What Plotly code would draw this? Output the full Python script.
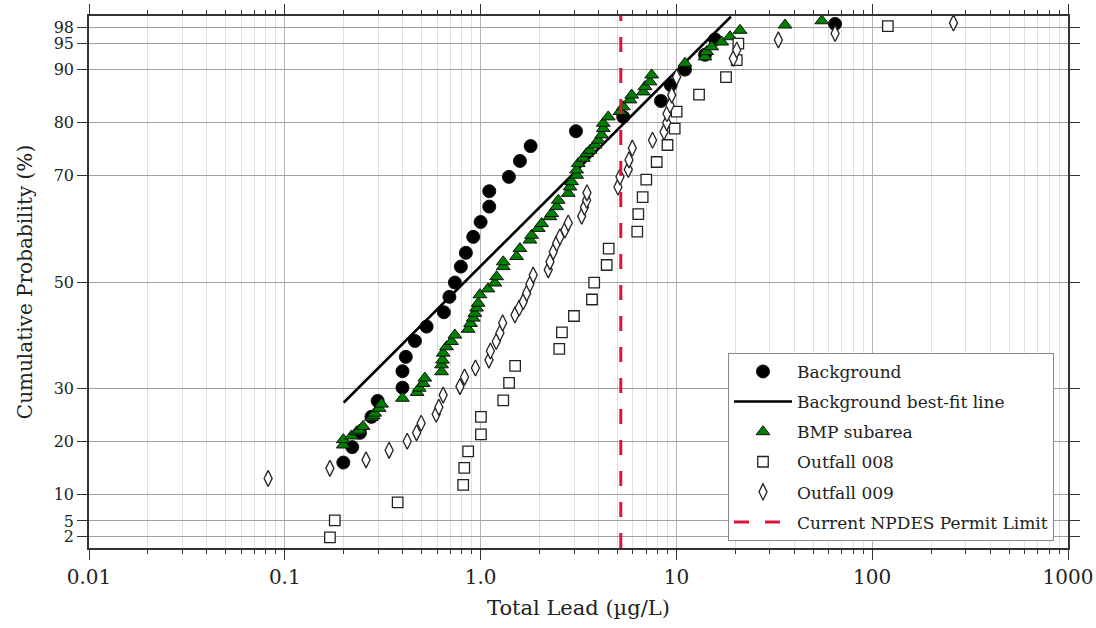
import plotly.graph_objects as go

# Background samples: total lead (ug/L) and cumulative probability (%)
background_lead = [0.199, 0.221, 0.242, 0.277, 0.298, 0.399, 0.399, 0.415, 0.462, 0.530,
                   0.649, 0.693, 0.739, 0.793, 0.841, 0.917, 1.00, 1.107, 1.107, 1.395,
                   1.588, 1.801, 3.07, 5.35, 8.34, 9.35, 11.06, 14.0, 15.75, 64.6]
background_prob = [16.0, 18.9, 21.6, 24.6, 27.6, 30.1, 33.2, 35.9, 38.9, 41.6,
                   44.3, 47.2, 49.9, 52.9, 55.5, 58.5, 61.3, 64.2, 67.1, 69.8,
                   72.8, 75.6, 78.4, 81.1, 84.1, 87.1, 90.0, 92.8, 95.7, 98.6]

# Background best-fit line end points
fit_lead = [0.2, 19.0]
fit_prob = [27.3, 100.0]

# BMP subarea samples
bmp_lead = [0.199, 0.199, 0.219, 0.233, 0.240, 0.251, 0.277, 0.283, 0.288, 0.303,
            0.312, 0.399, 0.474, 0.486, 0.509, 0.519, 0.632, 0.632, 0.639, 0.644,
            0.670, 0.711, 0.739, 0.864, 0.889, 0.917, 0.935, 0.954, 0.972, 0.992,
            1.090, 1.183, 1.207, 1.305, 1.305, 1.527, 1.588, 1.786, 1.822, 1.970,
            2.050, 2.261, 2.306, 2.445, 2.492, 2.803, 2.860, 2.917, 3.094, 3.094,
            3.152, 3.344, 3.480, 3.618, 3.837, 3.989, 4.152, 4.231, 4.231, 4.487,
            5.150, 5.354, 5.794, 5.911, 6.774, 6.912, 7.330, 7.479, 11.06, 14.00,
            14.28, 15.15, 17.04, 18.79, 21.13, 35.87, 55.27]
bmp_prob = [19.3, 20.3, 21.0, 21.8, 22.1, 22.8, 24.5, 24.8, 25.3, 26.2,
            27.0, 28.1, 29.2, 30.0, 30.9, 31.9, 33.1, 34.4, 35.3, 36.6,
            37.8, 38.8, 40.0, 41.1, 42.2, 43.2, 44.1, 45.1, 46.0, 47.6,
            48.7, 49.8, 51.0, 52.9, 53.8, 54.8, 56.3, 57.9, 58.8, 60.1,
            61.0, 62.3, 62.9, 64.2, 65.4, 66.7, 67.9, 68.9, 70.1, 71.1,
            72.3, 73.3, 74.2, 74.8, 75.8, 76.7, 77.7, 78.9, 79.9, 81.1,
            82.1, 83.0, 84.3, 85.2, 85.8, 86.8, 87.7, 89.0, 91.2, 92.4,
            93.4, 94.3, 95.2, 96.2, 97.4, 98.4, 99.2]

# Outfall 008 samples
outfall008_lead = [0.170, 0.180, 0.377, 0.815, 0.825, 0.864, 1.004, 1.004, 1.305, 1.398,
                   1.501, 2.522, 2.603, 2.998, 3.705, 3.802, 4.405, 4.510, 6.312, 6.387,
                   6.726, 7.018, 7.931, 9.005, 9.801, 10.03, 13.05, 17.92, 20.33, 20.72,
                   120.2]
outfall008_prob = [1.9, 5.1, 8.5, 11.8, 15.0, 18.1, 21.3, 24.6, 27.7, 31.0,
                   34.2, 37.4, 40.5, 43.6, 46.7, 49.9, 53.2, 56.3, 59.5, 62.8,
                   66.0, 69.3, 72.6, 75.8, 78.9, 82.1, 85.3, 88.6, 91.8, 94.9,
                   98.2]

# Outfall 009 samples
outfall009_lead = [0.0822, 0.170, 0.260, 0.341, 0.422, 0.471, 0.497, 0.593, 0.612, 0.644,
                   0.784, 0.828, 0.941, 1.103, 1.122, 1.202, 1.255, 1.296, 1.498, 1.575,
                   1.651, 1.719, 1.786, 1.857, 2.216, 2.261, 2.350, 2.445, 2.542, 2.696,
                   2.803, 3.282, 3.392, 3.480, 3.493, 5.031, 5.150, 5.679, 5.726, 5.953,
                   7.550, 8.643, 8.922, 8.954, 9.276, 9.463, 10.03, 19.53, 20.33, 33.16,
                   64.62, 260.0]
outfall009_prob = [13.0, 14.9, 16.5, 18.3, 20.0, 21.6, 23.4, 25.1, 26.4, 28.7,
                   30.3, 32.1, 33.8, 35.3, 37.0, 38.8, 40.4, 42.3, 43.8, 45.1,
                   46.3, 47.9, 49.6, 51.3, 52.3, 53.8, 55.7, 57.3, 58.5, 59.8,
                   61.1, 62.4, 64.1, 65.4, 66.8, 67.9, 69.8, 71.2, 73.0, 75.2,
                   76.7, 78.3, 80.0, 81.7, 83.3, 85.2, 88.6, 92.1, 93.7, 95.6,
                   96.8, 98.8]

# Current NPDES permit limit (ug/L)
permit_limit = 5.2

# Axis ticks
x_tickvals = [0.01, 0.1, 1, 10, 100, 1000]
x_ticktext = ["0.01", "0.1", "1.0", "10", "100", "1000"]
y_tickvals = [2, 5, 10, 20, 30, 50, 70, 80, 90, 95, 98]
y_range = [-0.1, 100.1]

FONT = "DejaVu Serif"
TEXT = "#222222"
EDGE = dict(color="#111111", width=1)

minor_x = [m * 10 ** e for e in range(-2, 3) for m in range(2, 10)]

fig = go.Figure()

fig.add_trace(go.Scatter(
    x=background_lead, y=background_prob, mode="markers", name="Background",
    legendgroup="a",
    marker=dict(symbol="circle", size=13, color="black", line=EDGE)))

fig.add_trace(go.Scatter(
    x=fit_lead, y=fit_prob, mode="lines", name="Background best-fit line",
    legendgroup="b",
    line=dict(color="black", width=2.6)))

fig.add_trace(go.Scatter(
    x=bmp_lead, y=bmp_prob, mode="markers", name="BMP subarea",
    legendgroup="c",
    marker=dict(symbol="triangle-up", size=12, color="#008000", line=EDGE)))

fig.add_trace(go.Scatter(
    x=outfall008_lead, y=outfall008_prob, mode="markers", name="Outfall 008",
    legendgroup="d",
    marker=dict(symbol="square", size=10.5, color="white",
                line=dict(color="#222222", width=1.3))))

fig.add_trace(go.Scatter(
    x=outfall009_lead, y=outfall009_prob, mode="markers", name="Outfall 009",
    legendgroup="e",
    marker=dict(symbol="diamond-tall", size=11.5, color="white",
                line=dict(color="#222222", width=1.3))))

fig.add_trace(go.Scatter(
    x=[permit_limit, permit_limit], y=y_range, mode="lines",
    name="Current NPDES Permit Limit", legendgroup="f",
    line=dict(color="#DC143C", width=3, dash="15px,16px")))

fig.update_xaxes(
    type="log", range=[-2, 3], automargin=False,
    tickmode="array", tickvals=x_tickvals, ticktext=x_ticktext,
    ticks="outside", ticklen=10, tickwidth=1.3, tickcolor="#333333",
    showline=True, linecolor="#333333", linewidth=1.5, mirror="allticks",
    showgrid=True, gridcolor="#b4b4b4", gridwidth=1.2,
    minor=dict(tickmode="array", tickvals=minor_x, ticks="outside", ticklen=4,
               tickwidth=1, tickcolor="#333333",
               showgrid=True, gridcolor="#e0e0e0", gridwidth=1),
    zeroline=False,
    tickfont=dict(family=FONT, size=20, color=TEXT),
    title=dict(text="Total Lead (µg/L)", font=dict(family=FONT, size=21, color=TEXT),
               standoff=13),
)

fig.update_yaxes(
    range=y_range, automargin=False,
    tickmode="array", tickvals=y_tickvals,
    ticks="outside", ticklen=10, tickwidth=1.3, tickcolor="#333333",
    showline=True, linecolor="#333333", linewidth=1.5, mirror="allticks",
    showgrid=True, gridcolor="#a0a0a0", gridwidth=1.2,
    zeroline=False,
    tickfont=dict(family=FONT, size=16, color=TEXT),
    title=dict(text="Cumulative Probability (%)", font=dict(family=FONT, size=20, color=TEXT),
               standoff=16),
)

fig.update_layout(
    width=1096, height=628,
    margin=dict(l=89, r=28, t=16, b=80),
    paper_bgcolor="white", plot_bgcolor="white",
    font=dict(family=FONT, color=TEXT),
    legend=dict(
        x=0.6527, y=0.3667, xanchor="left", yanchor="top",
        bgcolor="white", bordercolor="#888888", borderwidth=1,
        font=dict(family=FONT, size=17, color=TEXT),
        traceorder="grouped", tracegroupgap=5, itemwidth=58,
    ),
)

fig.write_html("out.html")
